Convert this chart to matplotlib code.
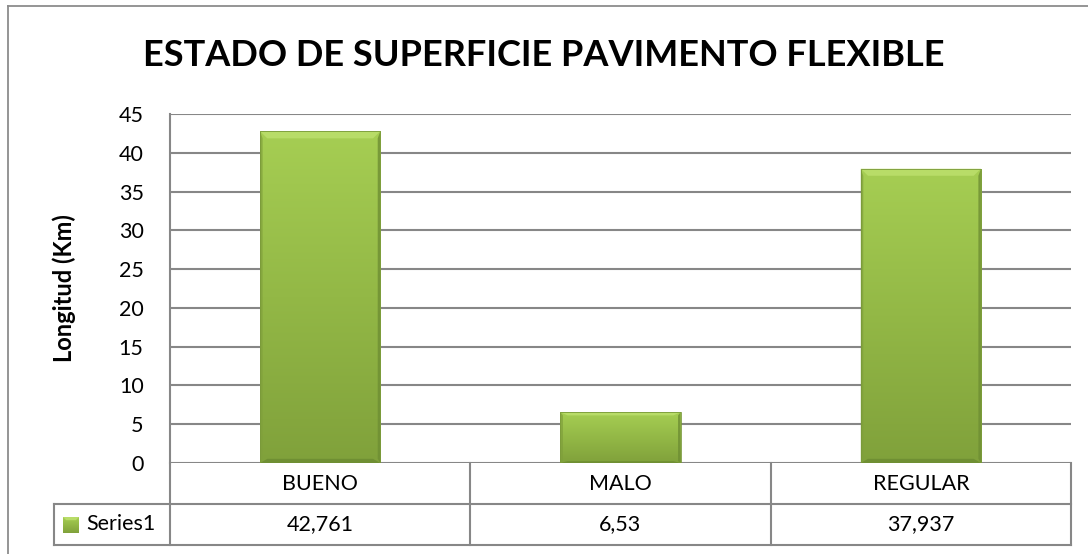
import numpy as np
import matplotlib
matplotlib.use("Agg")
import matplotlib.pyplot as plt
from matplotlib.patches import Rectangle, Polygon
from matplotlib.colors import LinearSegmentedColormap
from matplotlib.lines import Line2D

categories = ["BUENO", "MALO", "REGULAR"]
values = [42.761, 6.53, 37.937]
value_labels = ["42,761", "6,53", "37,937"]
series_name = "Series1"
y_ticks = [0, 5, 10, 15, 20, 25, 30, 35, 40, 45]

FONT = ["Lato", "DejaVu Sans"]
plt.rcParams["font.family"] = FONT

W, H = 1088, 554
fig = plt.figure(figsize=(W / 100, H / 100), dpi=100)

# plot area in pixel terms
left, right, top, bottom = 170, 1071, 114, 463
ax = fig.add_axes([left / W, 1 - bottom / H, (right - left) / W, (bottom - top) / H])
ax.set_xlim(-0.5, len(categories) - 0.5)
ax.set_ylim(0, 45)

grid_c = "#878787"
for t in y_ticks:
    ax.axhline(t, color=grid_c, lw=1.5, zorder=1)
for s in ["top", "right", "bottom"]:
    ax.spines[s].set_visible(False)
ax.spines["left"].set_color(grid_c)
ax.spines["left"].set_linewidth(1.5)
ax.set_yticks(y_ticks)
ax.set_yticklabels([str(t) for t in y_ticks], fontsize=15.5)
ax.tick_params(axis="y", length=0, pad=19)
ax.set_xticks([])
ax.set_ylabel("Longitud (Km)", fontsize=17, fontweight="bold", labelpad=31)

# dark at the bottom, light at the top
cmap = LinearSegmentedColormap.from_list("g", ["#80a13b", "#93b846", "#a6ce53"])
bar_w = 0.4
bars = ax.bar(range(len(categories)), values, width=bar_w, color="none",
              edgecolor="none", zorder=3)
grad = np.linspace(0, 1, 256).reshape(-1, 1)
for b in bars:
    x0, w, h = b.get_x(), b.get_width(), b.get_height()
    im = ax.imshow(grad, cmap=cmap, aspect="auto", origin="lower",
                   extent=[x0, x0 + w, 0, h], zorder=3, interpolation="bicubic")
    im.set_clip_path(b)
    # bevelled edges
    bx = w * 0.06
    by = min(h * 0.06, 0.9)
    ax.add_patch(Polygon([[x0, h], [x0 + w, h], [x0 + w - bx, h - by], [x0 + bx, h - by]],
                         closed=True, color="#b8dc68", lw=0, zorder=4))
    ax.add_patch(Polygon([[x0, 0], [x0 + w, 0], [x0 + w - bx, by * 0.6], [x0 + bx, by * 0.6]],
                         closed=True, color="#6f8f33", lw=0, zorder=4))
    ax.add_patch(Polygon([[x0, 0], [x0, h], [x0 + bx * 0.35, h - by], [x0 + bx * 0.35, by * 0.6]],
                         closed=True, color="#7f9f3b", lw=0, zorder=4, alpha=0.7))
    ax.add_patch(Polygon([[x0 + w, 0], [x0 + w, h], [x0 + w - bx * 0.35, h - by], [x0 + w - bx * 0.35, by * 0.6]],
                         closed=True, color="#6e8e33", lw=0, zorder=4, alpha=0.8))
    ax.add_patch(Rectangle((x0, 0), w, h, fill=False, ec="#7a9a3a", lw=0.6, zorder=5))

# data table below the plot
row1 = (504 - bottom) / (bottom - top)
row2 = (545 - bottom) / (bottom - top)
leg_left = (54 - left) / (right - left)
tk = dict(transform=ax.transAxes, color=grid_c, lw=1.5, clip_on=False, zorder=2)
ax.plot([0, 0], [0, -row2], **tk)
ax.plot([1, 1], [0, -row2], **tk)
ax.plot([leg_left, 1], [-row1, -row1], **tk)
ax.plot([leg_left, 1], [-row2, -row2], **tk)
ax.plot([leg_left, leg_left], [-row1, -row2], **tk)
n = len(categories)
for i in range(1, n):
    ax.plot([i / n, i / n], [0, -row2], **tk)
for i, (c, v) in enumerate(zip(categories, value_labels)):
    xc = (i + 0.5) / n
    ax.text(xc, -row1 / 2, c, transform=ax.transAxes, ha="center", va="center", fontsize=15.5)
    ax.text(xc, -(row1 + row2) / 2, v, transform=ax.transAxes, ha="center", va="center", fontsize=15.5)

# legend key with the same gradient as the bars
key_ax = fig.add_axes([63 / W, 1 - 533 / H, 16 / W, 16 / H])
key_ax.imshow(grad, cmap=cmap, aspect="auto", origin="lower", extent=[0, 1, 0, 1])
key_ax.add_patch(Polygon([[0, 1], [1, 1], [0.8, 0.8], [0.2, 0.8]], closed=True,
                         color="#b8dc68", lw=0))
key_ax.set_xlim(0, 1)
key_ax.set_ylim(0, 1)
key_ax.set_axis_off()
ax.text((86 - left) / (right - left), -(row1 + row2) / 2, series_name,
        transform=ax.transAxes, ha="left", va="center", fontsize=15.5)

fig.text(0.5, 1 - 55 / H, "ESTADO DE SUPERFICIE PAVIMENTO FLEXIBLE",
         ha="center", va="center", fontsize=26, fontweight="bold")

# chart frame: top and left edges
fig.add_artist(Line2D([8 / W, 1], [1 - 6 / H, 1 - 6 / H], transform=fig.transFigure,
                      color="#8c8c8c", lw=1.3))
fig.add_artist(Line2D([8 / W, 8 / W], [0, 1 - 6 / H], transform=fig.transFigure,
                      color="#8c8c8c", lw=1.3))

fig.savefig("out.png", dpi=100)
